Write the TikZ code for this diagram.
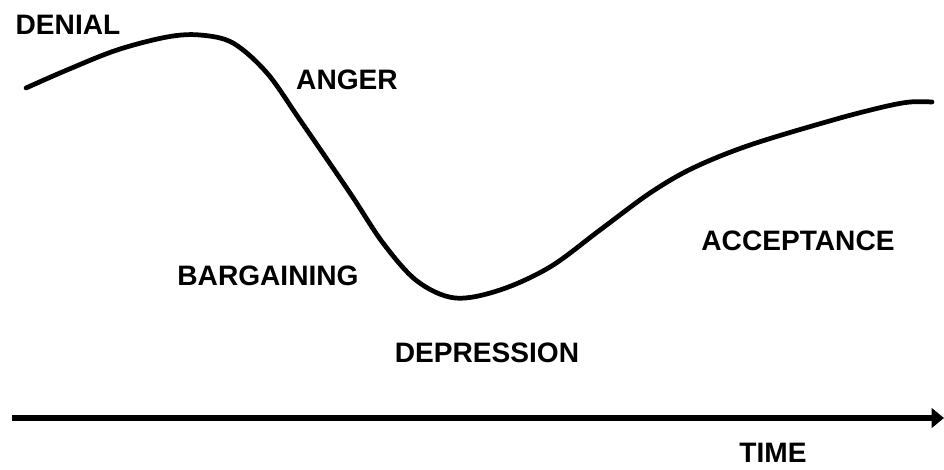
\documentclass[tikz,border=0pt]{standalone}
\usepackage{fontspec}
\setmainfont{Liberation Sans}
\usepackage{tikz}
\usetikzlibrary{arrows.meta, positioning}

\begin{document}
\begin{tikzpicture}[
    x=0.02cm, y=-0.02cm,
    stage/.style={font=\fontsize{16}{19}\selectfont\bfseries, inner sep=0pt},
]
    \useasboundingbox (0,0) rectangle (944,470);

    % Grief curve
    \draw[line width=2.7pt, line cap=round, line join=round] plot[smooth, tension=0.55] coordinates {
        (26,88) (67,70) (117,50) (167,37) (200,35) (233,43) (267,73)
        (300,120) (350,193) (383,243) (417,281) (455,298) (500,290)
        (550,267) (600,230) (650,193) (693,168) (750,145) (833,120) (883,107)
        (910,102) (932,102)
    };

    % Stage labels
    \node[stage] (denial) at (68,25) {DENIAL};
    \node[stage] (anger) at (347,80) {ANGER};
    \node[stage] (bargaining) at (268,276) {BARGAINING};
    \node[stage] (depression) at (487,353) {DEPRESSION};
    \node[stage] (acceptance) at (798,241) {ACCEPTANCE};

    % Time axis
    \coordinate (axisstart) at (12,418);
    \coordinate (axisend) at (944,418);
    \draw[-{Triangle[length=7pt, width=11pt]}, line width=3.2pt] (axisstart) -- (axisend);
    \node[stage] (time) at (773,453) {TIME};
\end{tikzpicture}
\end{document}
